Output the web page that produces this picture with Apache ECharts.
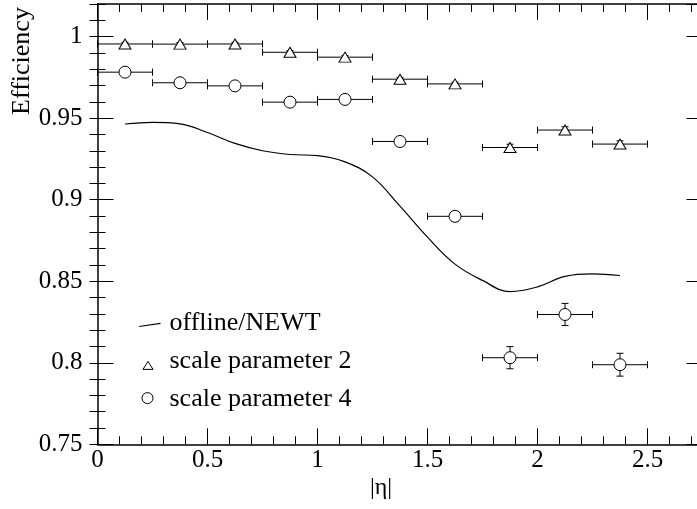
<!DOCTYPE html>
<html>
<head>
<meta charset="utf-8">
<script src="https://cdn.jsdelivr.net/npm/echarts@6/dist/echarts.min.js"></script>
<style>html,body{margin:0;padding:0;background:#fff;}#chart{width:697px;height:509px;}</style>
</head>
<body>
<div id="chart"></div>
<script>
// ---- data ----
const etaCenters = [0.125, 0.375, 0.625, 0.875, 1.125, 1.375, 1.625, 1.875, 2.125, 2.375];
const etaHalfWidth = [0.125, 0.125, 0.125, 0.125, 0.125, 0.125, 0.125, 0.125, 0.125, 0.125];
const scale2Eff = [0.9955, 0.9954, 0.9955, 0.9904, 0.9874, 0.9739, 0.9710, 0.9320, 0.9427, 0.9341];
const scale2Err = [0.001, 0.001, 0.001, 0.001, 0.001, 0.001, 0.001, 0.002, 0.002, 0.002];
const scale4Eff = [0.9782, 0.9717, 0.9698, 0.9598, 0.9615, 0.9357, 0.8898, 0.8031, 0.8296, 0.7988];
const scale4Err = [0.001, 0.001, 0.001, 0.002, 0.002, 0.002, 0.003, 0.0068, 0.0068, 0.0070];
const offlineEta = [0.125, 0.25, 0.375, 0.5, 0.625, 0.75, 0.875, 1.0, 1.125, 1.25, 1.375, 1.5, 1.625, 1.75, 1.875, 2.0, 2.125, 2.25, 2.375];
const offlineEff = [0.9464, 0.9474, 0.9465, 0.9412, 0.9345, 0.9300, 0.9277, 0.9270, 0.9232, 0.9140, 0.8960, 0.8770, 0.8605, 0.8505, 0.8436, 0.8465, 0.8530, 0.8545, 0.8535];
const xTicks = [0, 0.5, 1, 1.5, 2, 2.5];
const yTicks = [0.75, 0.8, 0.85, 0.9, 0.95, 1];
const seriesNames = ['offline/NEWT', 'scale parameter 2', 'scale parameter 4'];
const xTitle = '|η|';
const yTitle = 'Efficiency';

// ---- build ----
const FONT = 'Liberation Serif, Times New Roman, serif';
const chart = echarts.init(document.getElementById('chart'), null, {renderer: 'canvas'});

function errData(eff, err) {
  return etaCenters.map((x, i) => [x, eff[i], etaHalfWidth[i], err[i]]);
}

function renderErr(params, api) {
  const x = api.value(0), y = api.value(1), xe = api.value(2), ye = api.value(3);
  const pL = api.coord([x - xe, y]), pR = api.coord([x + xe, y]);
  const st = {stroke: '#000', lineWidth: 1};
  const cap = 3.5;
  const ch = [
    {type: 'line', shape: {x1: pL[0], y1: pL[1], x2: pR[0], y2: pR[1]}, style: st},
    {type: 'line', shape: {x1: pL[0], y1: pL[1] - cap, x2: pL[0], y2: pL[1] + cap}, style: st},
    {type: 'line', shape: {x1: pR[0], y1: pR[1] - cap, x2: pR[0], y2: pR[1] + cap}, style: st}
  ];
  if (ye > 0) {
    const pT = api.coord([x, y + ye]), pB = api.coord([x, y - ye]);
    ch.push({type: 'line', shape: {x1: pT[0], y1: pT[1], x2: pB[0], y2: pB[1]}, style: st});
    ch.push({type: 'line', shape: {x1: pT[0] - cap, y1: pT[1], x2: pT[0] + cap, y2: pT[1]}, style: st});
    ch.push({type: 'line', shape: {x1: pB[0] - cap, y1: pB[1], x2: pB[0] + cap, y2: pB[1]}, style: st});
  }
  return {type: 'group', children: ch};
}

const axisLineStyle = {color: '#000', width: 1.5};
function mkX(opts) {
  return Object.assign({
    type: 'value', min: 0, max: 2.75, gridIndex: 0,
    splitLine: {show: false},
    axisLine: {show: true, onZero: false, lineStyle: axisLineStyle},
    axisTick: {show: true, inside: true, length: 16, lineStyle: {color: '#000', width: 1}},
    axisLabel: {show: false}
  }, opts);
}
function mkY(opts) {
  return Object.assign({
    type: 'value', min: 0.75, max: 1.02, gridIndex: 0,
    splitLine: {show: false},
    axisLine: {show: true, onZero: false, lineStyle: axisLineStyle},
    axisTick: {show: true, inside: true, length: 16, lineStyle: {color: '#000', width: 1}},
    axisLabel: {show: false}
  }, opts);
}
const minorTick = {show: true, inside: true, length: 8, lineStyle: {color: '#000', width: 1}};

const option = {
  backgroundColor: '#fff',
  animation: false,
  grid: {left: 97.5, top: 4, width: 605, bottom: 64.7, containLabel: false, outerBoundsMode: 'none'},
  xAxis: [
    mkX({position: 'bottom', interval: 0.5,
      axisLabel: {show: true, margin: 4, color: '#000', fontFamily: FONT, fontSize: 25, showMaxLabel: false,
        formatter: v => xTicks.some(t => Math.abs(t - v) < 1e-6) ? String(+v.toFixed(2)) : ''}}),
    mkX({position: 'bottom', interval: 0.1, axisLine: {show: false}, axisTick: minorTick}),
    mkX({position: 'top', interval: 0.5}),
    mkX({position: 'top', interval: 0.1, axisLine: {show: false}, axisTick: minorTick})
  ],
  yAxis: [
    mkY({position: 'left', interval: 0.05,
      axisLabel: {show: true, margin: 15, color: '#000', fontFamily: FONT, fontSize: 25, showMaxLabel: false,
        formatter: v => yTicks.some(t => Math.abs(t - v) < 1e-6) ? String(+v.toFixed(2)) : ''}}),
    mkY({position: 'left', interval: 0.01, axisLine: {show: false}, axisTick: minorTick}),
    mkY({position: 'right', interval: 0.05}),
    mkY({position: 'right', interval: 0.01, axisLine: {show: false}, axisTick: minorTick})
  ],
  legend: {
    orient: 'vertical', left: 138, top: 310.5, padding: 0, itemWidth: 26, itemHeight: 20, itemGap: 11.7,
    selectedMode: false,
    textStyle: {color: '#000', fontFamily: FONT, fontSize: 26, lineHeight: 26},
    itemStyle: {borderWidth: 1, borderColor: '#000'},
    data: [
      {name: seriesNames[0], icon: 'path://M0,0 M26,20 M0.5,12.4 L22,9.3 L22,10.4 L0.5,13.5 Z', itemStyle: {color: '#000', borderWidth: 0}},
      {name: seriesNames[1], icon: 'path://M0,0 M26,20 M4.5,18.2 L9.5,10.2 L14.5,18.2 Z', itemStyle: {color: '#fff', borderColor: '#000', borderWidth: 1}},
      {name: seriesNames[2], icon: 'path://M0,0 M26,20 M3.5,9.2 A5.5,5.5 0 1 1 14.5,9.2 A5.5,5.5 0 1 1 3.5,9.2 Z', itemStyle: {color: '#fff', borderColor: '#000', borderWidth: 1}}
    ]
  },
  series: [
    {
      name: seriesNames[0], type: 'line', xAxisIndex: 0, yAxisIndex: 0,
      data: offlineEta.map((x, i) => [x, offlineEff[i]]),
      smooth: 0.4, showSymbol: false, symbol: 'none',
      lineStyle: {color: '#000', width: 1.2}, itemStyle: {color: '#000'}, z: 2
    },
    {
      name: seriesNames[1] + '_err', type: 'custom', xAxisIndex: 0, yAxisIndex: 0,
      data: errData(scale2Eff, scale2Err), renderItem: renderErr, clip: false, z: 3, silent: true
    },
    {
      name: seriesNames[2] + '_err', type: 'custom', xAxisIndex: 0, yAxisIndex: 0,
      data: errData(scale4Eff, scale4Err), renderItem: renderErr, clip: false, z: 3, silent: true
    },
    {
      name: seriesNames[1], type: 'scatter', xAxisIndex: 0, yAxisIndex: 0,
      data: etaCenters.map((x, i) => [x, scale2Eff[i]]),
      symbol: 'triangle', symbolSize: [12, 10],
      itemStyle: {color: '#fff', borderColor: '#000', borderWidth: 1, opacity: 1}, z: 4
    },
    {
      name: seriesNames[2], type: 'scatter', xAxisIndex: 0, yAxisIndex: 0,
      data: etaCenters.map((x, i) => [x, scale4Eff[i]]),
      symbol: 'circle', symbolSize: 12,
      itemStyle: {color: '#fff', borderColor: '#000', borderWidth: 1, opacity: 1}, z: 4
    }
  ],
  graphic: [
    {type: 'text', x: 22, y: 61, rotation: Math.PI / 2,
      style: {text: yTitle, font: '26px ' + FONT, fill: '#000', align: 'center', verticalAlign: 'middle'}},
    {type: 'text', x: 381, y: 488,
      style: {text: xTitle, font: '24px ' + FONT, fill: '#000', align: 'center', verticalAlign: 'middle'}}
  ]
};
chart.setOption(option);
</script>
</body>
</html>
